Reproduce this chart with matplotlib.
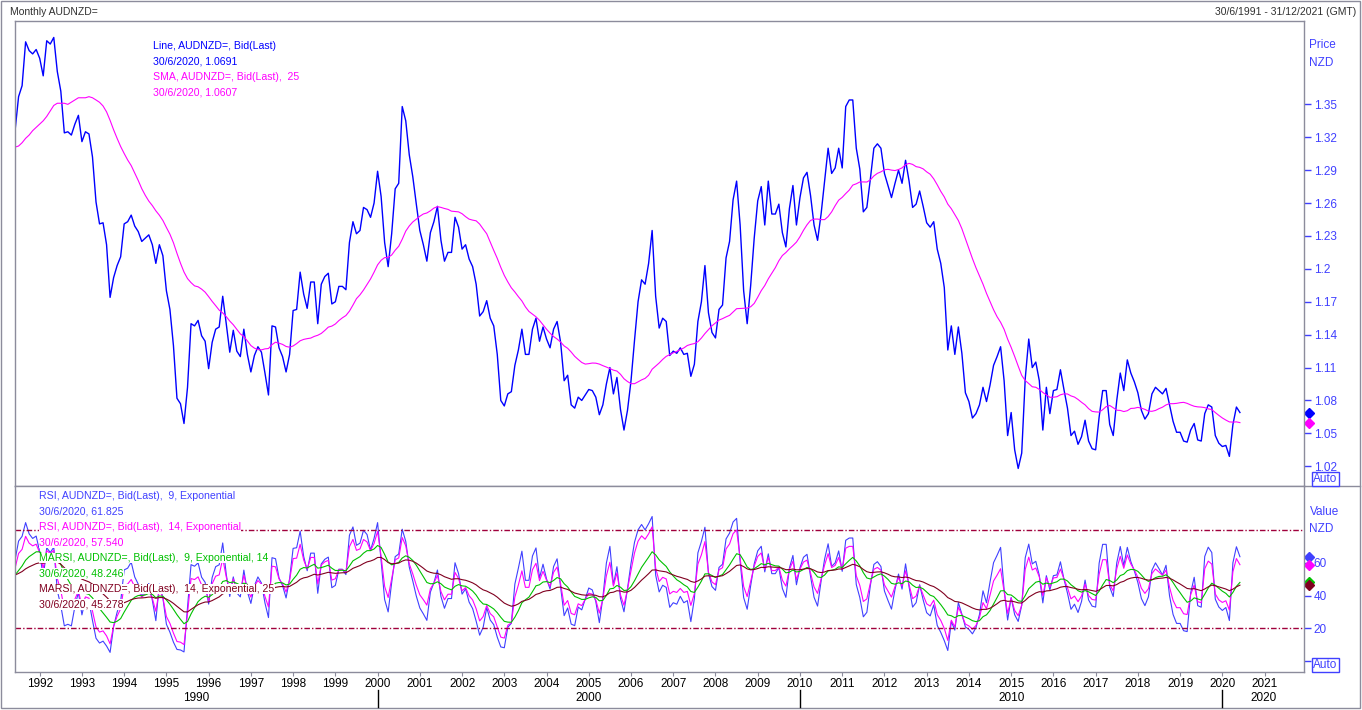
import numpy as np
import pandas as pd
import matplotlib
matplotlib.use('Agg')
import matplotlib.pyplot as plt
import matplotlib.transforms as mtrans
from matplotlib.lines import Line2D
from matplotlib.patches import Rectangle

plt.rcParams['font.family'] = ['Liberation Sans', 'DejaVu Sans']

# monthly AUDNZD close, 30/6/1991 .. 30/6/2020
price = np.array([
    1.326, 1.357, 1.367, 1.407, 1.399, 1.396, 1.400,                                 # 1991 Jun-Dec
    1.392, 1.376, 1.408, 1.405, 1.411, 1.380, 1.362, 1.324, 1.325, 1.322, 1.332, 1.340,  # 1992
    1.316, 1.325, 1.323, 1.302, 1.261, 1.241, 1.242, 1.222, 1.174, 1.192, 1.203, 1.211,  # 1993
    1.241, 1.243, 1.249, 1.239, 1.234, 1.225, 1.228, 1.231, 1.222, 1.205, 1.222, 1.212,  # 1994
    1.180, 1.163, 1.130, 1.082, 1.077, 1.059, 1.092, 1.150, 1.148, 1.153, 1.139, 1.134,  # 1995
    1.109, 1.133, 1.145, 1.147, 1.175, 1.150, 1.124, 1.144, 1.125, 1.120, 1.145, 1.122,  # 1996
    1.106, 1.121, 1.129, 1.124, 1.105, 1.085, 1.148, 1.147, 1.128, 1.120, 1.106, 1.122,  # 1997
    1.162, 1.163, 1.197, 1.177, 1.164, 1.188, 1.188, 1.150, 1.186, 1.193, 1.196, 1.168,  # 1998
    1.170, 1.184, 1.184, 1.181, 1.224, 1.243, 1.232, 1.235, 1.256, 1.254, 1.247, 1.260,  # 1999
    1.289, 1.266, 1.224, 1.202, 1.232, 1.273, 1.278, 1.348, 1.335, 1.304, 1.284, 1.259,  # 2000
    1.235, 1.222, 1.207, 1.233, 1.243, 1.257, 1.226, 1.207, 1.215, 1.215, 1.247, 1.238,  # 2001
    1.218, 1.222, 1.209, 1.202, 1.186, 1.157, 1.161, 1.171, 1.155, 1.148, 1.122, 1.080,  # 2002
    1.075, 1.086, 1.088, 1.112, 1.126, 1.145, 1.122, 1.122, 1.145, 1.155, 1.134, 1.147,  # 2003
    1.136, 1.128, 1.145, 1.152, 1.133, 1.098, 1.103, 1.076, 1.073, 1.083, 1.080, 1.085,  # 2004
    1.090, 1.089, 1.083, 1.067, 1.076, 1.095, 1.110, 1.086, 1.101, 1.072, 1.053, 1.071,  # 2005
    1.098, 1.135, 1.170, 1.190, 1.186, 1.205, 1.235, 1.175, 1.146, 1.155, 1.152, 1.121,  # 2006
    1.125, 1.123, 1.128, 1.122, 1.123, 1.102, 1.113, 1.152, 1.170, 1.203, 1.160, 1.142,  # 2007
    1.137, 1.163, 1.167, 1.210, 1.225, 1.263, 1.280, 1.240, 1.180, 1.150, 1.185, 1.228,  # 2008
    1.262, 1.275, 1.240, 1.280, 1.250, 1.250, 1.259, 1.233, 1.220, 1.255, 1.276, 1.240,  # 2009
    1.265, 1.283, 1.288, 1.267, 1.240, 1.226, 1.250, 1.280, 1.310, 1.287, 1.292, 1.310,  # 2010
    1.292, 1.348, 1.354, 1.354, 1.310, 1.291, 1.252, 1.256, 1.282, 1.310, 1.314, 1.310,  # 2011
    1.287, 1.276, 1.265, 1.278, 1.290, 1.278, 1.299, 1.280, 1.256, 1.259, 1.271, 1.257,  # 2012
    1.242, 1.238, 1.243, 1.218, 1.205, 1.183, 1.126, 1.148, 1.122, 1.147, 1.123, 1.087,  # 2013
    1.079, 1.064, 1.068, 1.076, 1.092, 1.079, 1.094, 1.112, 1.120, 1.129, 1.098, 1.048,  # 2014
    1.069, 1.035, 1.018, 1.032, 1.100, 1.136, 1.110, 1.115, 1.098, 1.053, 1.092, 1.068,  # 2015
    1.089, 1.090, 1.108, 1.090, 1.073, 1.048, 1.052, 1.040, 1.047, 1.062, 1.043, 1.036,  # 2016
    1.035, 1.065, 1.089, 1.089, 1.058, 1.048, 1.080, 1.105, 1.089, 1.117, 1.105, 1.097,  # 2017
    1.087, 1.071, 1.063, 1.068, 1.086, 1.092, 1.089, 1.086, 1.091, 1.076, 1.061, 1.051,  # 2018
    1.051, 1.043, 1.042, 1.053, 1.059, 1.044, 1.043, 1.068, 1.076, 1.074, 1.048, 1.041,  # 2019
    1.038, 1.039, 1.029, 1.058, 1.074, 1.069,                                         # 2020 Jan-Jun
])

# SMA(25) for the first months, where the history before the chart is needed
sma_head = [1.311, 1.312, 1.315, 1.319, 1.322, 1.326, 1.329, 1.332, 1.335, 1.339,
            1.344, 1.349, 1.351, 1.351, 1.351, 1.350, 1.352, 1.354, 1.356, 1.356,
            1.356, 1.357, 1.356, 1.354]
# indicator levels at the left edge of the chart
rsi9_first, rsi14_first = 61.7, 56.6
marsi9_first, marsi14_first = 52.5, 52.5

years = list(range(1992, 2022))
decades = ['1990', '2000', '2010', '2020']
price_ticks = [1.02, 1.05, 1.08, 1.11, 1.14, 1.17, 1.2, 1.23, 1.26, 1.29, 1.32, 1.35]

BLUE = '#0000ff'
ABLUE = '#4040ff'
MAG = '#ff00ff'
GREEN = '#00c000'
DRED = '#800020'
LEVEL = '#a0003c'
GRAY = '#8c8c9c'

W, H = 1362, 710
def fx(x): return x / W
def fy(y): return 1 - y / H


# exponential RSI, smoothing 2/(n+1), started from the level seen at the left edge
def rsi(p, n, first):
    a = 2 / (n + 1)
    d = np.diff(p)
    move = np.mean(np.abs(d))
    g = move * first / 100
    l = move * (1 - first / 100)
    out = [first]
    for v in d:
        g += a * (max(v, 0) - g)
        l += a * (max(-v, 0) - l)
        out.append(100 - 100 / (1 + g / l))
    return np.array(out)


def ema(v, m, first):
    a = 2 / (m + 1)
    out = [first]
    for x in v[1:]:
        out.append(out[-1] + a * (x - out[-1]))
    return np.array(out)


x = np.arange(len(price))
sma = pd.Series(price).rolling(25).mean().values
sma[:len(sma_head)] = sma_head

r9 = rsi(price, 9, rsi9_first)
r14 = rsi(price, 14, rsi14_first)
m9 = ema(r9, 14, marsi9_first)
m14 = ema(r14, 25, marsi14_first)

fig = plt.figure(figsize=(W / 100, H / 100), dpi=100)
ax1 = fig.add_axes([fx(14.7), fy(486), fx(1304) - fx(14.7), fy(21) - fy(486)])
ax2 = fig.add_axes([fx(14.7), fy(672), fx(1304) - fx(14.7), fy(486) - fy(672)])

ax1.plot(x, price, color=BLUE, lw=1.0)
ax1.plot(x, sma, color=MAG, lw=0.8)
ax1.set_xlim(-0.1, 366.2)
ax1.set_ylim(1.002, 1.426)

ax2.plot(x, r9, color=ABLUE, lw=0.8)
ax2.plot(x, r14, color=MAG, lw=0.8)
ax2.plot(x, m9, color=GREEN, lw=0.8)
ax2.plot(x, m14, color=DRED, lw=0.8)
for lv in (80, 20):
    ax2.axhline(lv, color=LEVEL, lw=1.0, dashes=(4, 1.5, 1, 1.5))
ax2.set_xlim(-0.1, 366.2)
ax2.set_ylim(-6.7, 106.9)

for ax in (ax1, ax2):
    for s in ax.spines.values():
        s.set_color(GRAY)
        s.set_linewidth(1)
    ax.yaxis.tick_right()
    ax.tick_params(axis='y', direction='out', length=5, width=1, colors=ABLUE,
                   labelsize=8.5, pad=2)

ax1.set_xticks([])
ax1.set_yticks(price_ticks)
ax1.set_yticklabels([f'{v:g}' for v in price_ticks])
ax2.set_yticks([0, 20, 40, 60])
ax2.set_yticklabels(['', '20', '40', '60'])
ax2.set_xticks([7 + 12 * (y - 1992) for y in years])
ax2.set_xticklabels([str(y) for y in years])
ax2.tick_params(axis='x', direction='out', length=3, color=GRAY, labelcolor='black',
                labelsize=8.5, pad=1.5)

# decade row under the year labels
bt = mtrans.blended_transform_factory(ax2.transData, fig.transFigure)
bounds = [-0.1, 103, 223, 343, 366.2]
for k, lab in enumerate(decades):
    ax2.text((bounds[k] + bounds[k + 1]) / 2, fy(698), lab, transform=bt,
             ha='center', va='center', fontsize=8.5, color='black', clip_on=False)
for b in bounds[1:4]:
    fig.add_artist(Line2D([b, b], [fy(690), fy(707)], transform=bt, color='black', lw=1))

# last-value diamonds at the right axis
xd = 367.6
ax1.plot([xd], [price[-1]], marker='D', ms=5, color=BLUE, clip_on=False)
ax1.plot([xd], [sma[-1]], marker='D', ms=5, color=MAG, clip_on=False)
for v, c in ((r9[-1], ABLUE), (r14[-1], MAG), (m9[-1], GREEN), (m14[-1], DRED)):
    ax2.plot([xd], [v], marker='D', ms=5, color=c, clip_on=False)

# legends
box = dict(facecolor='white', edgecolor='none', pad=0.3)
up = [('Line, AUDNZD=, Bid(Last)', BLUE), ('30/6/2020, 1.0691', BLUE),
      ('SMA, AUDNZD=, Bid(Last),  25', MAG), ('30/6/2020, 1.0607', MAG)]
for k, (t, c) in enumerate(up):
    fig.text(fx(153), fy(46 + 15.4 * k), t, color=c, fontsize=7.6, va='center')
lo = [('RSI, AUDNZD=, Bid(Last),  9, Exponential', ABLUE), ('30/6/2020, 61.825', ABLUE),
      ('RSI, AUDNZD=, Bid(Last),  14, Exponential', MAG), ('30/6/2020, 57.540', MAG),
      ('MARSI, AUDNZD=, Bid(Last),  9, Exponential, 14', GREEN), ('30/6/2020, 48.246', GREEN),
      ('MARSI, AUDNZD=, Bid(Last),  14, Exponential, 25', DRED), ('30/6/2020, 45.278', DRED)]
for k, (t, c) in enumerate(lo):
    fig.text(fx(39), fy(496 + 15.5 * k), t, color=c, fontsize=7.6, va='center', bbox=box)

# axis captions
for t, yy in (('Price', 45.5), ('NZD', 62.5), ('Value', 511.7), ('NZD', 529)):
    fig.text(fx(1309.5), fy(yy), t, color=ABLUE, fontsize=8.5, va='center')
for yy in (479, 665):
    fig.text(fx(1313), fy(yy), 'Auto', color=ABLUE, fontsize=8.5, va='center',
             bbox=dict(facecolor='white', edgecolor=ABLUE, boxstyle='square,pad=0.12', lw=1))

fig.text(fx(10), fy(12), 'Monthly AUDNZD=', fontsize=7.5, color='#303030', va='center')
fig.text(fx(1356), fy(12), '30/6/1991 - 31/12/2021 (GMT)', fontsize=7.5, color='#303030',
         va='center', ha='right')

fig.add_artist(Rectangle((fx(1), fy(708)), fx(1360) - fx(1), fy(1) - fy(708),
                         transform=fig.transFigure, fill=False, edgecolor=GRAY, lw=1))
fig.add_artist(Line2D([fx(1304), fx(1360)], [fy(486), fy(486)], transform=fig.transFigure,
                      color=GRAY, lw=1))

fig.savefig('out.png', dpi=100)
